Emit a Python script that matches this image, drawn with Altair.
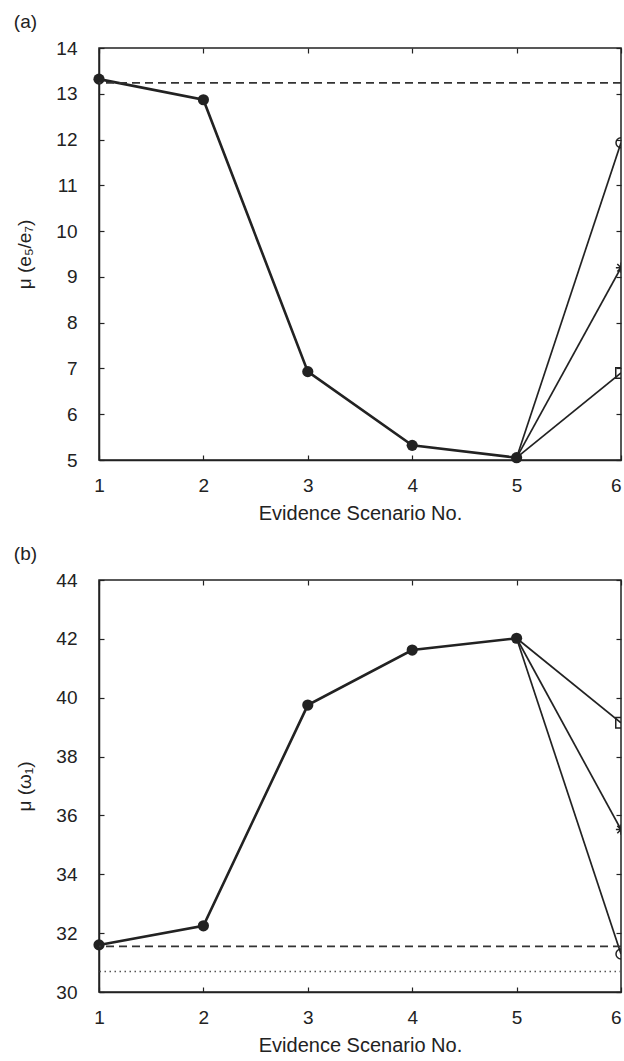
import altair as alt
import pandas as pd

scenarios = [1, 2, 3, 4, 5, 6]
shape_names = ["circle", "star", "square"]

# Panel (a): mean of e5/e7 per evidence scenario
a_common = [13.32, 12.87, 6.93, 5.32, 5.05]
a_end = [11.93, 9.20, 6.90]          # scenario 6, one value per shape
a_dashed = 13.24
a_ticks = [5, 6, 7, 8, 9, 10, 11, 12, 13, 14]

# Panel (b): mean of omega1 per evidence scenario
b_common = [31.60, 32.25, 39.75, 41.62, 42.02]
b_end = [31.29, 35.52, 39.15]        # scenario 6, one value per shape
b_dashed = 31.55
b_dotted = 30.70
b_ticks = [30, 32, 34, 36, 38, 40, 42, 44]

W, H = 522, 412
INK = "#222222"
FONT = "Liberation Sans"
ASTERISK = "M-1,0L1,0M0,-1L0,1M-0.72,-0.72L0.72,0.72M-0.72,0.72L0.72,-0.72"


def inward(orient, values, offset):
    # tick-only axis pushed across the plot so its ticks point into the frame
    return alt.Axis(orient=orient, offset=offset, values=values, labels=False,
                    domain=False, grid=False, ticks=True, tickSize=5,
                    tickColor=INK, tickWidth=1.2, title=None)


def panel(common, ends, ticks, ytitle, tag, refs):
    trunk = pd.DataFrame({"x": scenarios[:5], "y": common})
    branch_rows = []
    for name, v in zip(shape_names, ends):
        branch_rows.append({"x": scenarios[4], "y": common[-1], "s": name})
        branch_rows.append({"x": scenarios[5], "y": v, "s": name})
    branches = pd.DataFrame(branch_rows)
    ends_df = pd.DataFrame({"x": [scenarios[5]] * 3, "y": ends, "s": shape_names})

    xs = alt.Scale(domain=[1, 6], nice=False, zero=False)
    ys = alt.Scale(domain=[ticks[0], ticks[-1]], nice=False, zero=False)

    main_x = alt.Axis(orient="bottom", values=scenarios, format="d", grid=False,
                      tickSize=0, labelPadding=16, title="Evidence Scenario No.",
                      titlePadding=8, domainColor=INK, domainWidth=1.5,
                      labelFontSize=19, titleFontSize=20, labelColor=INK,
                      titleColor=INK, titleFontWeight="normal", labelFont=FONT,
                      titleFont=FONT,
                      labelAlign={"condition": {"test": f"datum.value == {scenarios[-1]}",
                                                "value": "right"},
                                  "value": "center"})
    main_y = alt.Axis(orient="left", values=ticks, format="d", grid=False,
                      tickSize=0, labelPadding=22, title=ytitle, titlePadding=21,
                      domainColor=INK, domainWidth=1.5, labelFontSize=19,
                      titleFontSize=19, labelColor=INK, titleColor=INK,
                      titleFontWeight="normal", labelFont=FONT, titleFont=FONT)

    trunk_line = alt.Chart(trunk).mark_line(color=INK, strokeWidth=2.6).encode(
        x=alt.X("x:Q", scale=xs, axis=main_x),
        y=alt.Y("y:Q", scale=ys, axis=main_y),
    )
    branch_line = alt.Chart(branches).mark_line(color=INK, strokeWidth=1.7, clip=True).encode(
        x=alt.X("x:Q", scale=xs, axis=inward("top", scenarios, -H)),
        y=alt.Y("y:Q", scale=ys, axis=inward("right", ticks, -W)),
        detail="s:N",
    )
    trunk_pts = alt.Chart(trunk).mark_point(filled=True, color=INK, size=125, opacity=1).encode(
        x=alt.X("x:Q", scale=xs, axis=inward("bottom", scenarios, -H)),
        y=alt.Y("y:Q", scale=ys, axis=inward("left", ticks, -W)),
    )
    # markers sit on the right frame and are cut by it
    end_pts = alt.Chart(ends_df).mark_point(filled=False, color=INK, strokeWidth=1.5,
                                            opacity=1, clip=True).encode(
        x=alt.X("x:Q", scale=xs, axis=None),
        y=alt.Y("y:Q", scale=ys, axis=None),
        shape=alt.Shape("s:N", scale=alt.Scale(domain=shape_names,
                                               range=["circle", ASTERISK, "square"]),
                        legend=None),
        size=alt.Size("s:N", scale=alt.Scale(domain=shape_names, range=[100, 110, 64]),
                      legend=None),
    )
    layers = [trunk_line, branch_line, trunk_pts, end_pts]
    for val, dash, color, width in refs:
        layers.append(
            alt.Chart(pd.DataFrame({"y": [val]})).mark_rule(
                color=color, strokeDash=dash, strokeWidth=width, clip=True
            ).encode(y=alt.Y("y:Q", scale=ys, axis=None))
        )
    return alt.layer(*layers).resolve_axis(x="independent", y="independent").properties(
        width=W, height=H,
        title=alt.TitleParams(tag, anchor="start", frame="bounds", fontSize=19,
                              fontWeight="normal", color=INK, font=FONT,
                              offset=7, dx=-2),
    )


top = panel(a_common, a_end, a_ticks, "μ (e₅/e₇)", "(a)",
            [(a_dashed, [8, 5], "#333333", 1.8)])
bottom = panel(b_common, b_end, b_ticks, "μ (ω₁)", "(b)",
               [(b_dashed, [8, 5], "#333333", 1.8),
                (b_dotted, [1.5, 3.5], "#555555", 1.5)])

chart = alt.vconcat(top, bottom, spacing=20).properties(
    padding={"left": 13, "top": 12, "right": 0, "bottom": 0}
).configure(font=FONT).configure_view(stroke=INK, strokeWidth=1.5)

chart.save("out.html", embed_options={"renderer": "svg", "actions": False})
